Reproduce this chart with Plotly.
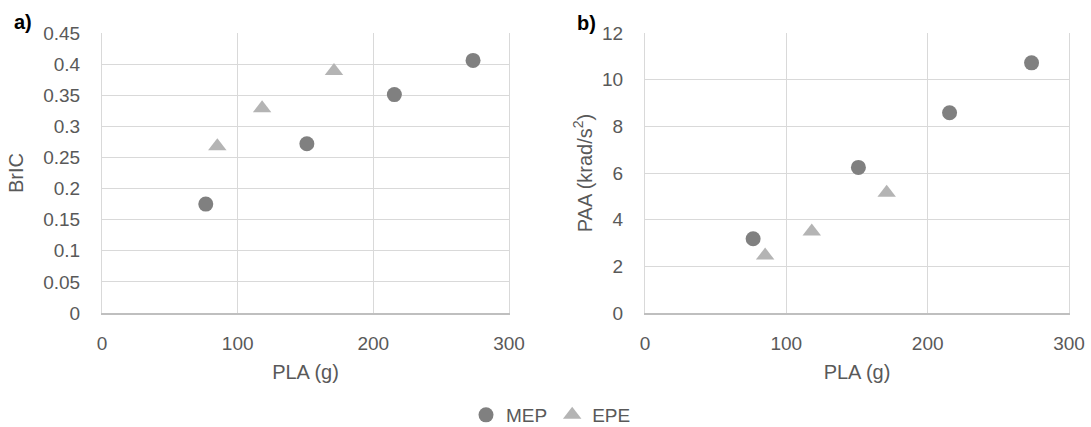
import plotly.graph_objects as go

# PLA mass (g) for each helmet liner configuration
pla_mep = [76.5, 151, 215.5, 273.5]
pla_epe = [85, 118, 171]

# Brain injury criterion
bric_mep = [0.175, 0.272, 0.351, 0.406]
bric_epe = [0.268, 0.329, 0.389]

# Peak angular acceleration (krad/s^2)
paa_mep = [3.18, 6.24, 8.58, 10.72]
paa_epe = [2.46, 3.49, 5.15]

x_ticks = [0, 100, 200, 300]
bric_ticks = [0, 0.05, 0.1, 0.15, 0.2, 0.25, 0.3, 0.35, 0.4, 0.45]
bric_ticktext = ["0", "0.05", "0.1", "0.15", "0.2", "0.25", "0.3", "0.35", "0.4", "0.45"]
paa_ticks = [0, 2, 4, 6, 8, 10, 12]

MEP_COLOR = "#808080"
EPE_COLOR = "#b4b4b4"
GRID = "#d9d9d9"
TEXT = "#595959"
FONT = "Liberation Sans, Arial, sans-serif"
TICK_SIZE = 19
TITLE_SIZE = 20

mep_marker = dict(symbol="circle", size=15, color=MEP_COLOR)
epe_marker = dict(symbol="triangle-up", size=16, color=EPE_COLOR)

fig = go.Figure()

fig.add_trace(go.Scatter(x=pla_mep, y=bric_mep, mode="markers", name="MEP",
                         marker=mep_marker, xaxis="x", yaxis="y", legendgroup="MEP"))
fig.add_trace(go.Scatter(x=pla_epe, y=bric_epe, mode="markers", name="EPE",
                         marker=epe_marker, xaxis="x", yaxis="y", legendgroup="EPE"))
fig.add_trace(go.Scatter(x=pla_mep, y=paa_mep, mode="markers", name="MEP",
                         marker=mep_marker, xaxis="x2", yaxis="y2", legendgroup="MEP",
                         showlegend=False))
fig.add_trace(go.Scatter(x=pla_epe, y=paa_epe, mode="markers", name="EPE",
                         marker=epe_marker, xaxis="x2", yaxis="y2", legendgroup="EPE",
                         showlegend=False))

W, H = 1091, 427
ytop, ybot = 1 - 33 / H, 1 - 313 / H

xcommon = dict(range=[0, 300], tickvals=x_ticks, showgrid=True, gridcolor=GRID,
               gridwidth=1, zeroline=False, showline=True, linecolor="#bfbfbf",
               linewidth=1.5, ticks="", automargin=False, ticklabelstandoff=12,
               tickfont=dict(size=TICK_SIZE, color=TEXT, family=FONT),
               title=dict(text="PLA (g)", font=dict(size=TITLE_SIZE, color=TEXT, family=FONT),
                          standoff=12))
ycommon = dict(showgrid=True, gridcolor=GRID, gridwidth=1, zeroline=False,
               showline=True, linecolor=GRID, mirror=True, ticks="",
               automargin=False, ticklabelstandoff=17,
               tickfont=dict(size=TICK_SIZE, color=TEXT, family=FONT))

fig.update_layout(
    width=W, height=H,
    margin=dict(l=0, r=0, t=0, b=0, autoexpand=False),
    paper_bgcolor="white", plot_bgcolor="white",
    font=dict(family=FONT, color=TEXT),
    xaxis=dict(domain=[102 / W, 509 / W], anchor="y", **xcommon),
    yaxis=dict(domain=[ybot, ytop], anchor="x", range=[0, 0.45],
               tickvals=bric_ticks, ticktext=bric_ticktext,
               title=dict(text="BrIC", font=dict(size=TITLE_SIZE, color=TEXT, family=FONT),
                          standoff=14),
               **ycommon),
    xaxis2=dict(domain=[645 / W, 1069 / W], anchor="y2", **xcommon),
    yaxis2=dict(domain=[ybot, ytop], anchor="x2", range=[0, 12],
                tickvals=paa_ticks,
                title=dict(text="PAA (krad/s<sup>2</sup>)",
                           font=dict(size=TITLE_SIZE, color=TEXT, family=FONT), standoff=4),
                **ycommon),
    showlegend=True,
    legend=dict(orientation="h", x=551 / W, xanchor="center", y=1 - 415 / H,
                yanchor="middle", font=dict(size=TICK_SIZE, color=TEXT, family=FONT),
                itemwidth=30, tracegroupgap=0, bgcolor="rgba(0,0,0,0)"),
    annotations=[
        dict(text="<b>a)</b>", x=12 / W, y=1 - 22 / H, xref="paper", yref="paper",
             xanchor="left", yanchor="middle", showarrow=False,
             font=dict(size=20, color="black", family=FONT)),
        dict(text="<b>b)</b>", x=575 / W, y=1 - 23 / H, xref="paper", yref="paper",
             xanchor="left", yanchor="middle", showarrow=False,
             font=dict(size=20, color="black", family=FONT)),
    ],
)

fig.write_html("out.html")
